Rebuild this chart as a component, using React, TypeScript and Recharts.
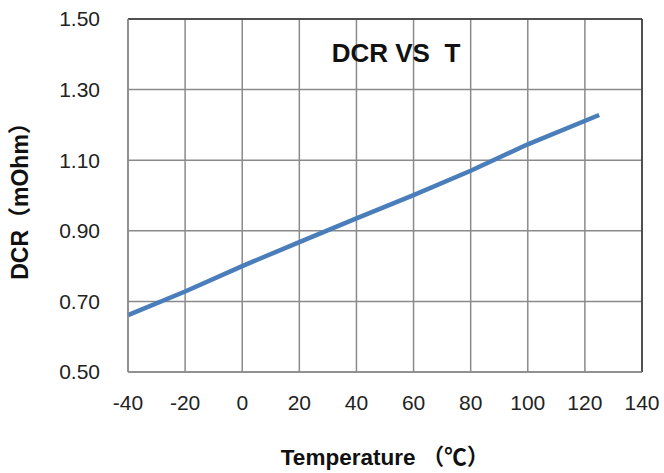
import {
  LineChart,
  Line,
  XAxis,
  YAxis,
  CartesianGrid,
  ReferenceLine,
  Label,
} from "recharts";

const temperatures = [-40, -20, 0, 20, 40, 60, 80, 100, 125];
const dcrValues = [0.661, 0.728, 0.8, 0.868, 0.935, 1.001, 1.07, 1.145, 1.228];

const xTicks = [-40, -20, 0, 20, 40, 60, 80, 100, 120, 140];
const yTicks = [0.5, 0.7, 0.9, 1.1, 1.3, 1.5];

const data = temperatures.map((t, i) => ({ t, dcr: dcrValues[i] }));

const FONT = "'Liberation Sans', Arial, 'Noto Sans CJK SC', sans-serif";
const GRID = "#8a8a8a";

const App = () => {
  return (
    <div
      style={{
        position: "fixed",
        left: 0,
        top: 0,
        width: 664,
        height: 473,
        background: "#fff",
        fontFamily: FONT,
      }}
    >
      <LineChart
        width={664}
        height={473}
        data={data}
        margin={{ top: 19, right: 22, left: 0, bottom: 0 }}
      >
        <CartesianGrid stroke={GRID} strokeWidth={1.5} />
        <XAxis
          dataKey="t"
          type="number"
          domain={[-40, 140]}
          ticks={xTicks}
          height={101}
          tickSize={0}
          tickMargin={23}
          axisLine={{ stroke: GRID, strokeWidth: 1.5 }}
          tick={{ fontSize: 21, fill: "#222", fontFamily: FONT }}
        >
          <Label
            value="Temperature （℃）"
            position="insideBottom"
            offset={8}
            style={{ fontSize: 22.5, fontWeight: "bold", fill: "#111", fontFamily: FONT }}
          />
        </XAxis>
        <YAxis
          type="number"
          domain={[0.5, 1.5]}
          ticks={yTicks}
          width={128}
          tickSize={0}
          tickMargin={28}
          axisLine={{ stroke: GRID, strokeWidth: 1.5 }}
          tickFormatter={(v: number) => v.toFixed(2)}
          tick={{ fontSize: 21, fill: "#222", fontFamily: FONT }}
        >
          <Label
            value="DCR（mOhm）"
            angle={-90}
            position="center"
            dx={-44}
            style={{ fontSize: 23, fontWeight: "bold", fill: "#111", fontFamily: FONT }}
          />
        </YAxis>
        <ReferenceLine y={1.5} stroke="#333" strokeWidth={1.5} />
        <ReferenceLine x={140} stroke="#333" strokeWidth={1.5} />
        <Line
          type="linear"
          dataKey="dcr"
          stroke="#4a7ebb"
          strokeWidth={4.5}
          dot={false}
          isAnimationActive={false}
        />
      </LineChart>
      <div
        style={{
          position: "absolute",
          left: 396,
          top: 53,
          transform: "translate(-50%, -50%)",
          fontSize: 26,
          fontWeight: "bold",
          color: "#111",
          whiteSpace: "pre",
        }}
      >
        DCR VS  T
      </div>
    </div>
  );
};

export default App;
